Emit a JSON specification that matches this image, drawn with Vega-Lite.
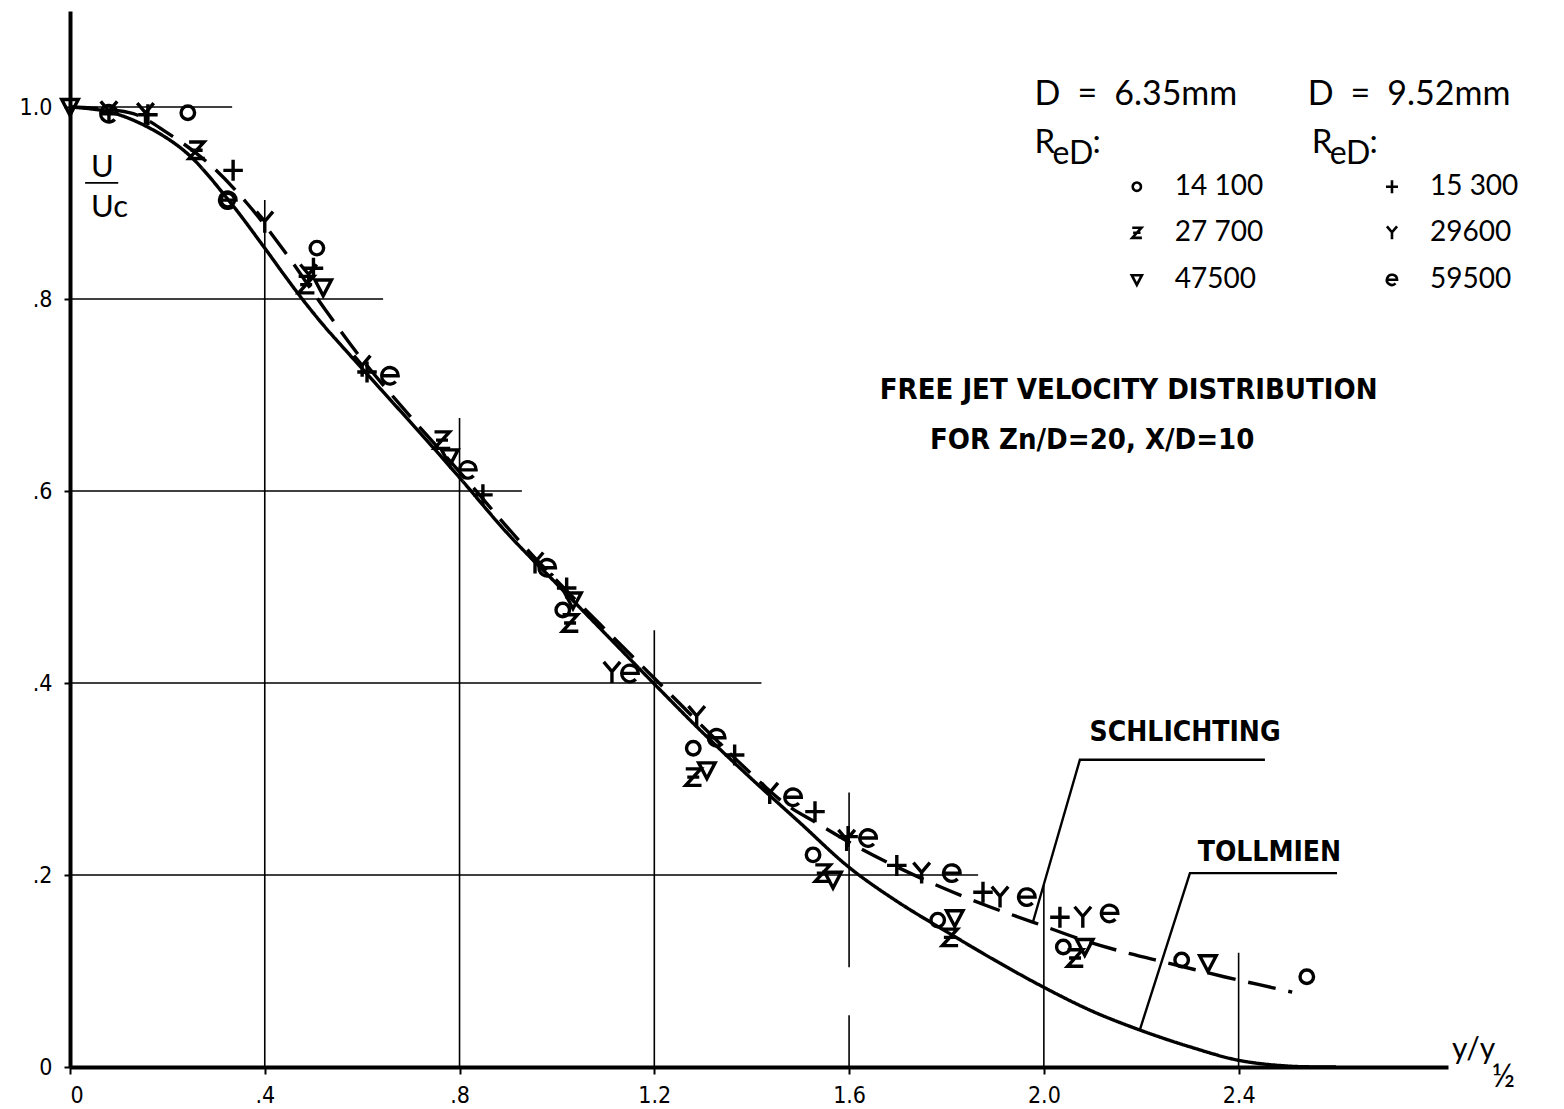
{
  "$schema": "https://vega.github.io/schema/vega-lite/v6.json",
  "width": 1378,
  "height": 1056,
  "autosize": {"type": "none"},
  "padding": {"left": 70, "top": 11, "right": 116, "bottom": 42},
  "background": "white",
  "config": {"view": {"stroke": null}, "axis": {"grid": false}},
  "datasets": {
    "rules": [
      {"x": 0, "x2": 0.333, "y": 1.0, "y2": 1.0},
      {"x": 0, "x2": 0.643, "y": 0.8, "y2": 0.8},
      {"x": 0, "x2": 0.928, "y": 0.6, "y2": 0.6},
      {"x": 0, "x2": 1.42, "y": 0.4, "y2": 0.4},
      {"x": 0, "x2": 1.865, "y": 0.2, "y2": 0.2},
      {"x": 0.4, "x2": 0.4, "y": 0, "y2": 0.903},
      {"x": 0.8, "x2": 0.8, "y": 0, "y2": 0.676},
      {"x": 1.2, "x2": 1.2, "y": 0, "y2": 0.455},
      {"x": 1.6, "x2": 1.6, "y": 0.104, "y2": 0.286},
      {"x": 1.6, "x2": 1.6, "y": 0, "y2": 0.054},
      {"x": 2.0, "x2": 2.0, "y": 0, "y2": 0.19},
      {"x": 2.4, "x2": 2.4, "y": 0, "y2": 0.119},
      {"x": 0.031, "x2": 0.099, "y": 0.921, "y2": 0.921}
    ],
    "curves": [
      {"theory": "Tollmien", "x": 0, "y": 1.0},
      {"theory": "Tollmien", "x": 0.08, "y": 0.995},
      {"theory": "Tollmien", "x": 0.16, "y": 0.979},
      {"theory": "Tollmien", "x": 0.24, "y": 0.952},
      {"theory": "Tollmien", "x": 0.324, "y": 0.904},
      {"theory": "Tollmien", "x": 0.4, "y": 0.853},
      {"theory": "Tollmien", "x": 0.44, "y": 0.825},
      {"theory": "Tollmien", "x": 0.48, "y": 0.798},
      {"theory": "Tollmien", "x": 0.52, "y": 0.773},
      {"theory": "Tollmien", "x": 0.56, "y": 0.75},
      {"theory": "Tollmien", "x": 0.64, "y": 0.705},
      {"theory": "Tollmien", "x": 0.72, "y": 0.66},
      {"theory": "Tollmien", "x": 0.8, "y": 0.614},
      {"theory": "Tollmien", "x": 0.9, "y": 0.555},
      {"theory": "Tollmien", "x": 1.0, "y": 0.503},
      {"theory": "Tollmien", "x": 1.1, "y": 0.451},
      {"theory": "Tollmien", "x": 1.2, "y": 0.399},
      {"theory": "Tollmien", "x": 1.3, "y": 0.348},
      {"theory": "Tollmien", "x": 1.4, "y": 0.3},
      {"theory": "Tollmien", "x": 1.5, "y": 0.254},
      {"theory": "Tollmien", "x": 1.6, "y": 0.208},
      {"theory": "Tollmien", "x": 1.7, "y": 0.172},
      {"theory": "Tollmien", "x": 1.8, "y": 0.141},
      {"theory": "Tollmien", "x": 1.9, "y": 0.111},
      {"theory": "Tollmien", "x": 2.0, "y": 0.083},
      {"theory": "Tollmien", "x": 2.1, "y": 0.058},
      {"theory": "Tollmien", "x": 2.2, "y": 0.038},
      {"theory": "Tollmien", "x": 2.3, "y": 0.021},
      {"theory": "Tollmien", "x": 2.4, "y": 0.007},
      {"theory": "Tollmien", "x": 2.5, "y": 0.001},
      {"theory": "Tollmien", "x": 2.6, "y": 0.0},
      {"theory": "Schlichting", "x": 0, "y": 1.0},
      {"theory": "Schlichting", "x": 0.13, "y": 0.993},
      {"theory": "Schlichting", "x": 0.2, "y": 0.973},
      {"theory": "Schlichting", "x": 0.283, "y": 0.942},
      {"theory": "Schlichting", "x": 0.363, "y": 0.9},
      {"theory": "Schlichting", "x": 0.44, "y": 0.85},
      {"theory": "Schlichting", "x": 0.524, "y": 0.789},
      {"theory": "Schlichting", "x": 0.6, "y": 0.737},
      {"theory": "Schlichting", "x": 0.7, "y": 0.677},
      {"theory": "Schlichting", "x": 0.8, "y": 0.62},
      {"theory": "Schlichting", "x": 0.95, "y": 0.533},
      {"theory": "Schlichting", "x": 1.2, "y": 0.405},
      {"theory": "Schlichting", "x": 1.4, "y": 0.305},
      {"theory": "Schlichting", "x": 1.472, "y": 0.273},
      {"theory": "Schlichting", "x": 1.534, "y": 0.254},
      {"theory": "Schlichting", "x": 1.622, "y": 0.228},
      {"theory": "Schlichting", "x": 1.7, "y": 0.208},
      {"theory": "Schlichting", "x": 1.786, "y": 0.188},
      {"theory": "Schlichting", "x": 1.883, "y": 0.168},
      {"theory": "Schlichting", "x": 1.977, "y": 0.151},
      {"theory": "Schlichting", "x": 2.088, "y": 0.131},
      {"theory": "Schlichting", "x": 2.177, "y": 0.118},
      {"theory": "Schlichting", "x": 2.25, "y": 0.109},
      {"theory": "Schlichting", "x": 2.37, "y": 0.094},
      {"theory": "Schlichting", "x": 2.44, "y": 0.086},
      {"theory": "Schlichting", "x": 2.51, "y": 0.078}
    ],
    "leaders": [
      {"name": "Schlichting", "ord": 1, "x": 1.977, "y": 0.15},
      {"name": "Schlichting", "ord": 2, "x": 2.074, "y": 0.32},
      {"name": "Schlichting", "ord": 3, "x": 2.454, "y": 0.32},
      {"name": "Tollmien", "ord": 1, "x": 2.197, "y": 0.0385},
      {"name": "Tollmien", "ord": 2, "x": 2.3, "y": 0.202},
      {"name": "Tollmien", "ord": 3, "x": 2.602, "y": 0.202}
    ],
    "measured": [
      {"re": "14100", "x": 0.242, "y": 0.994},
      {"re": "14100", "x": 0.324, "y": 0.903},
      {"re": "14100", "x": 0.507, "y": 0.853},
      {"re": "14100", "x": 1.012, "y": 0.476},
      {"re": "14100", "x": 1.28, "y": 0.332},
      {"re": "14100", "x": 1.526, "y": 0.221},
      {"re": "14100", "x": 1.782, "y": 0.153},
      {"re": "14100", "x": 2.04, "y": 0.125},
      {"re": "14100", "x": 2.283, "y": 0.1115},
      {"re": "14100", "x": 2.54, "y": 0.094},
      {"re": "27700", "x": 0.26, "y": 0.955},
      {"re": "27700", "x": 0.485, "y": 0.815},
      {"re": "27700", "x": 0.764, "y": 0.653},
      {"re": "27700", "x": 1.027, "y": 0.4625},
      {"re": "27700", "x": 1.28, "y": 0.302},
      {"re": "27700", "x": 1.546, "y": 0.202},
      {"re": "27700", "x": 1.807, "y": 0.135},
      {"re": "27700", "x": 2.064, "y": 0.1135},
      {"re": "47500", "x": 0, "y": 1.0},
      {"re": "47500", "x": 0.52, "y": 0.812},
      {"re": "47500", "x": 0.78, "y": 0.635},
      {"re": "47500", "x": 1.033, "y": 0.486},
      {"re": "47500", "x": 1.308, "y": 0.309},
      {"re": "47500", "x": 1.567, "y": 0.195},
      {"re": "47500", "x": 1.817, "y": 0.155},
      {"re": "47500", "x": 2.084, "y": 0.125},
      {"re": "47500", "x": 2.337, "y": 0.108},
      {"re": "15300", "x": 0.16, "y": 0.992},
      {"re": "15300", "x": 0.335, "y": 0.934},
      {"re": "15300", "x": 0.5, "y": 0.832},
      {"re": "15300", "x": 0.61, "y": 0.724},
      {"re": "15300", "x": 0.848, "y": 0.596},
      {"re": "15300", "x": 1.02, "y": 0.499},
      {"re": "15300", "x": 1.365, "y": 0.325},
      {"re": "15300", "x": 1.53, "y": 0.266},
      {"re": "15300", "x": 1.598, "y": 0.24},
      {"re": "15300", "x": 1.698, "y": 0.21},
      {"re": "15300", "x": 1.875, "y": 0.182},
      {"re": "15300", "x": 2.033, "y": 0.156},
      {"re": "29600", "x": 0.08, "y": 0.995},
      {"re": "29600", "x": 0.155, "y": 0.993},
      {"re": "29600", "x": 0.4, "y": 0.88},
      {"re": "29600", "x": 0.49, "y": 0.825},
      {"re": "29600", "x": 0.6, "y": 0.73},
      {"re": "29600", "x": 0.955, "y": 0.525},
      {"re": "29600", "x": 1.113, "y": 0.411},
      {"re": "29600", "x": 1.287, "y": 0.365},
      {"re": "29600", "x": 1.437, "y": 0.285},
      {"re": "29600", "x": 1.595, "y": 0.236},
      {"re": "29600", "x": 1.749, "y": 0.202},
      {"re": "29600", "x": 1.91, "y": 0.177},
      {"re": "29600", "x": 2.08, "y": 0.156},
      {"re": "59500", "x": 0.08, "y": 0.993},
      {"re": "59500", "x": 0.324, "y": 0.903},
      {"re": "59500", "x": 0.657, "y": 0.72},
      {"re": "59500", "x": 0.817, "y": 0.622},
      {"re": "59500", "x": 0.98, "y": 0.52},
      {"re": "59500", "x": 1.15, "y": 0.41},
      {"re": "59500", "x": 1.328, "y": 0.343},
      {"re": "59500", "x": 1.485, "y": 0.281},
      {"re": "59500", "x": 1.639, "y": 0.2385},
      {"re": "59500", "x": 1.811, "y": 0.202},
      {"re": "59500", "x": 1.965, "y": 0.177},
      {"re": "59500", "x": 2.135, "y": 0.16}
    ],
    "key": [
      {"re": "14100", "label": "14 100", "x": 2.269, "y": 0.917},
      {"re": "27700", "label": "27 700", "x": 2.269, "y": 0.869},
      {"re": "47500", "label": "47500", "x": 2.269, "y": 0.82},
      {"re": "15300", "label": "15 300", "x": 2.793, "y": 0.917},
      {"re": "29600", "label": "29600", "x": 2.793, "y": 0.869},
      {"re": "59500", "label": "59500", "x": 2.793, "y": 0.82}
    ],
    "notes": [
      {"role": "head", "label": "D\u2002=\u20026.35mm", "x": 1.981, "y": 1.0125},
      {"role": "head", "label": "D\u2002=\u20029.52mm", "x": 2.542, "y": 1.0125},
      {"role": "R", "label": "R", "x": 1.981, "y": 0.962},
      {"role": "sub", "label": "eD", "x": 2.018, "y": 0.951},
      {"role": "R", "label": ":", "x": 2.1, "y": 0.962},
      {"role": "R", "label": "R", "x": 2.55, "y": 0.962},
      {"role": "sub", "label": "eD", "x": 2.587, "y": 0.951},
      {"role": "R", "label": ":", "x": 2.669, "y": 0.962},
      {"role": "frac", "label": "U", "x": 0.043, "y": 0.936},
      {"role": "frac", "label": "Uc", "x": 0.043, "y": 0.895},
      {"role": "xt", "label": "y/y", "x": 2.838, "y": 0.018},
      {"role": "sub", "label": "½", "x": 2.92, "y": -0.01}
    ],
    "captions": [
      {"role": "title", "label": "FREE JET VELOCITY DISTRIBUTION", "x": 1.663, "y": 0.705},
      {"role": "title", "label": "FOR Zn/D=20, X/D=10", "x": 1.766, "y": 0.653},
      {"role": "curve", "label": "SCHLICHTING", "x": 2.094, "y": 0.348},
      {"role": "curve", "label": "TOLLMIEN", "x": 2.316, "y": 0.223}
    ]
  },
  "encoding": {
    "x": {
      "field": "x",
      "type": "quantitative",
      "scale": {"domain": [0, 2.83], "nice": false, "zero": false},
      "axis": {
        "values": [0, 0.4, 0.8, 1.2, 1.6, 2.0, 2.4],
        "labelExpr": "datum.value == 0 ? '0' : (datum.value < 1 ? replace(format(datum.value, '.1f'), '0.', '.') : format(datum.value, '.1f'))",
        "title": null,
        "grid": false,
        "domainColor": "black",
        "domainWidth": 4,
        "tickColor": "black",
        "tickWidth": 2,
        "tickSize": 7,
        "labelFont": "DejaVu Sans Condensed, DejaVu Sans",
        "labelFontSize": 23,
        "labelColor": "black",
        "labelPadding": 10
      }
    },
    "y": {
      "field": "y",
      "type": "quantitative",
      "scale": {"domain": [0, 1.1], "nice": false, "zero": false},
      "axis": {
        "values": [0, 0.2, 0.4, 0.6, 0.8, 1.0],
        "labelExpr": "datum.value == 0 ? '0' : (datum.value < 1 ? replace(format(datum.value, '.1f'), '0.', '.') : format(datum.value, '.1f'))",
        "title": null,
        "grid": false,
        "domainColor": "black",
        "domainWidth": 4,
        "tickColor": "black",
        "tickWidth": 2,
        "tickSize": 6,
        "labelFont": "DejaVu Sans Condensed, DejaVu Sans",
        "labelFontSize": 23,
        "labelColor": "black",
        "labelPadding": 12
      }
    }
  },
  "layer": [
    {
      "data": {"name": "rules"},
      "mark": {"type": "rule", "color": "black", "strokeWidth": 1.6},
      "encoding": {"x2": {"field": "x2"}, "y2": {"field": "y2"}}
    },
    {
      "data": {"name": "curves"},
      "mark": {"type": "line", "color": "black", "strokeWidth": 3.4, "interpolate": "catmull-rom"},
      "encoding": {
        "strokeDash": {
          "field": "theory",
          "type": "nominal",
          "scale": {"domain": ["Tollmien", "Schlichting"], "range": [[1, 0], [28, 13]]},
          "legend": null
        }
      }
    },
    {
      "data": {"name": "leaders"},
      "mark": {"type": "line", "color": "black", "strokeWidth": 2.4},
      "encoding": {
        "detail": {"field": "name", "type": "nominal"},
        "order": {"field": "ord", "type": "quantitative"}
      }
    },
    {
      "data": {"name": "measured"},
      "mark": {"type": "point", "filled": false, "color": "black", "strokeWidth": 3.4, "size": 900, "opacity": 1},
      "encoding": {
        "shape": {
          "field": "re",
          "type": "nominal",
          "scale": {
            "domain": ["14100", "27700", "47500", "15300", "29600", "59500"],
            "range": [
              "M0.45,0A0.45,0.45 0 1,1 -0.45,0A0.45,0.45 0 1,1 0.45,0Z",
              "M-0.5,-0.55L0.5,-0.55L-0.5,0.55L0.55,0.55M-0.4,0L0.4,0",
              "M-0.55,-0.5L0.55,-0.5L0,0.55Z",
              "M-0.65,0L0.65,0M0,-0.7L0,0.7",
              "M-0.55,-0.7L0,-0.05L0.55,-0.7M0,-0.05L0,0.7",
              "M-0.55,0L0.55,0A0.55,0.55 0 1,0 0.39,0.39"
            ]
          },
          "legend": null
        }
      }
    },
    {
      "data": {"name": "key"},
      "mark": {"type": "point", "filled": false, "color": "black", "strokeWidth": 2.6, "size": 340, "opacity": 1, "xOffset": -38},
      "encoding": {
        "shape": {"field": "re", "type": "nominal", "legend": null}
      }
    },
    {
      "data": {"name": "key"},
      "mark": {"type": "text", "align": "left", "baseline": "middle", "font": "Lato", "fontSize": 28, "color": "black"},
      "encoding": {"text": {"field": "label"}}
    },
    {
      "data": {"name": "notes"},
      "mark": {"type": "text", "align": "left", "baseline": "middle", "font": "Lato", "color": "black"},
      "encoding": {
        "text": {"field": "label"},
        "size": {
          "field": "role",
          "type": "ordinal",
          "scale": {"domain": ["head", "R", "sub", "frac", "xt"], "range": [34, 28, 15, 26, 30]},
          "legend": null
        }
      }
    },
    {
      "data": {"name": "captions"},
      "mark": {"type": "text", "align": "left", "baseline": "middle", "font": "DejaVu Sans Condensed, DejaVu Sans", "fontWeight": "bold", "color": "black"},
      "encoding": {
        "text": {"field": "label"},
        "size": {
          "field": "role",
          "type": "ordinal",
          "scale": {"domain": ["title", "curve"], "range": [28, 24.5]},
          "legend": null
        }
      }
    }
  ]
}
